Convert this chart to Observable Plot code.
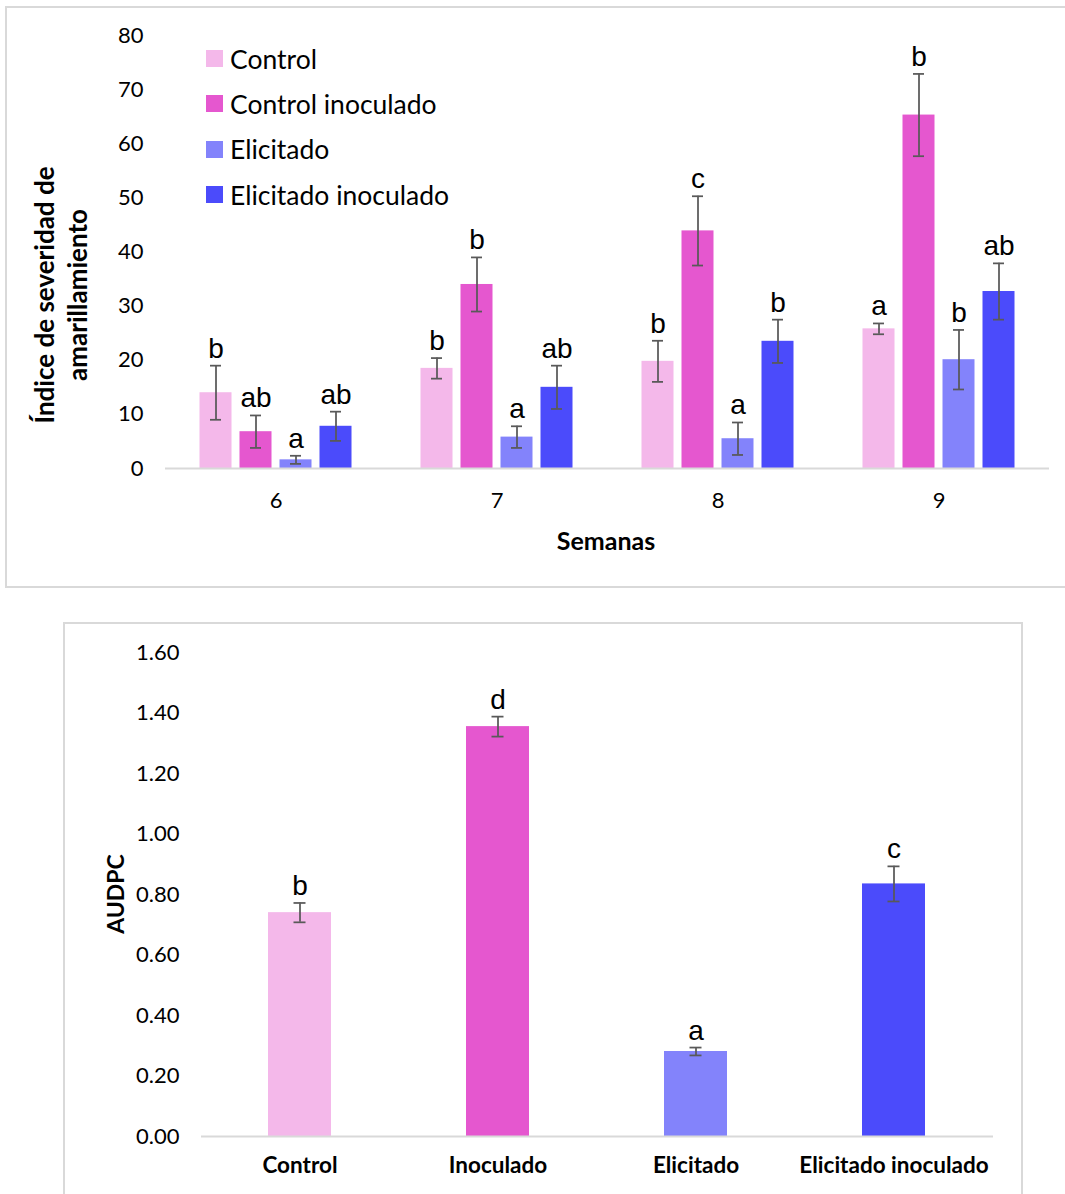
<!DOCTYPE html>
<html>
<head>
<meta charset="utf-8">
<script src="https://cdn.jsdelivr.net/npm/d3@7"></script>
<script src="https://cdn.jsdelivr.net/npm/@observablehq/plot@0.6"></script>
<style>
  html, body { margin: 0; padding: 0; background: #fff; }
  #wrap { position: relative; width: 1065px; height: 1194px; overflow: hidden; font-family: Lato, "Open Sans", sans-serif; }
  .box { position: absolute; border: 2px solid #d9d9d9; box-sizing: border-box; }
  .plot { position: absolute; left: 0; }
  .legend { position: absolute; left: 206px; top: 36px; font-family: Lato, sans-serif; font-size: 26.5px; color: #000; }
  .legend .row { height: 45.3px; display: flex; align-items: center; }
  .legend .sw { width: 17px; height: 17px; margin-right: 7px; }
  .ytitle { position: absolute; font-weight: bold; color: #000; text-align: center; white-space: nowrap; transform: translate(-50%, -50%) rotate(-90deg); }
  .xtitle { position: absolute; font-weight: bold; color: #000; transform: translate(-50%, -50%); white-space: nowrap; }
</style>
</head>
<body>
<div id="wrap">
  <div class="box" style="left:5px; top:6px; width:1080px; height:582px;"></div>
  <div class="box" style="left:63px; top:622px; width:960px; height:600px;"></div>
  <div id="topChart" class="plot" style="top:0px;"></div>
  <div id="bottomChart" class="plot" style="top:600px;"></div>
  <div id="legend" class="legend"></div>
  <div class="ytitle" style="left:61px; top:295px; font-size:26px; line-height:33px;">Índice de severidad de<br>amarillamiento</div>
  <div class="xtitle" style="left:606px; top:540px; font-size:25px;">Semanas</div>
  <div class="ytitle" style="left:115px; top:894px; font-size:23px;">AUDPC</div>
</div>
<script>
// ---- Top chart data ----
const weeks = [6, 7, 8, 9];
const treatments = ["Control", "Control inoculado", "Elicitado", "Elicitado inoculado"];
const colors = ["#F4B8EA", "#E557CF", "#8383FB", "#4B4BFB"];

const controlMean = [14.0, 18.5, 19.8, 25.8];
const controlErr = [5.0, 1.9, 3.8, 1.0];
const controlLetters = ["b", "b", "b", "a"];

const controlInocMean = [6.8, 34.0, 43.9, 65.3];
const controlInocErr = [3.0, 5.0, 6.4, 7.6];
const controlInocLetters = ["ab", "b", "c", "b"];

const elicMean = [1.6, 5.8, 5.5, 20.1];
const elicErr = [0.75, 2.0, 3.0, 5.5];
const elicLetters = ["a", "a", "a", "b"];

const elicInocMean = [7.8, 15.0, 23.5, 32.7];
const elicInocErr = [2.7, 4.0, 4.0, 5.2];
const elicInocLetters = ["ab", "ab", "b", "ab"];

const yTicksTop = [0, 10, 20, 30, 40, 50, 60, 70, 80];

// ---- Bottom chart data ----
const audpcCats = ["Control", "Inoculado", "Elicitado", "Elicitado inoculado"];
const audpcMean = [0.74, 1.355, 0.281, 0.835];
const audpcErr = [0.032, 0.033, 0.013, 0.058];
const audpcLetters = ["b", "d", "a", "c"];
const yTicksBottom = [0, 0.2, 0.4, 0.6, 0.8, 1.0, 1.2, 1.4, 1.6];

// Build rows
const series = [
  [controlMean, controlErr, controlLetters],
  [controlInocMean, controlInocErr, controlInocLetters],
  [elicMean, elicErr, elicLetters],
  [elicInocMean, elicInocErr, elicInocLetters]
];
const rows = [];
weeks.forEach((w, i) => {
  treatments.forEach((t, j) => {
    const [m, e, l] = series[j];
    rows.push({week: w, t, v: m[i], lo: m[i] - e[i], hi: m[i] + e[i], letter: l[i]});
  });
});

const errColor = "#595959";
const letterFont = "'Liberation Sans', Arial, sans-serif";

const topPlot = Plot.plot({
  width: 1065, height: 590,
  marginLeft: 164.5, marginRight: 16.5, marginTop: 35, marginBottom: 122,
  style: {fontFamily: "Lato, sans-serif", fontSize: "22px", color: "#000", background: "transparent"},
  fx: {domain: weeks, padding: 0, label: null, axis: "bottom", tickSize: 0, tickPadding: 24},
  x: {domain: treatments, paddingInner: 0.2, paddingOuter: 0.8625, axis: null},
  y: {domain: [0, 80], ticks: yTicksTop, label: null, tickSize: 0, tickPadding: 22},
  color: {domain: treatments, range: colors},
  marks: [
    Plot.barY(rows, {fx: "week", x: "t", y: "v", fill: "t"}),
    Plot.ruleY([0], {stroke: "#d9d9d9", strokeWidth: 2}),
    Plot.ruleX(rows, {fx: "week", x: "t", y1: "lo", y2: "hi", stroke: errColor, strokeWidth: 1.75}),
    Plot.tickY(rows, {fx: "week", x: "t", y: "hi", stroke: errColor, strokeWidth: 1.75, insetLeft: 10.5, insetRight: 10.5}),
    Plot.tickY(rows, {fx: "week", x: "t", y: "lo", stroke: errColor, strokeWidth: 1.75, insetLeft: 10.5, insetRight: 10.5}),
    Plot.text(rows, {fx: "week", x: "t", y: "hi", text: "letter", lineAnchor: "bottom", dy: -8, fontSize: 28, fontFamily: letterFont, fill: "#000"})
  ]
});
document.getElementById("topChart").appendChild(topPlot);

// Legend
const lg = document.getElementById("legend");
treatments.forEach((t, j) => {
  const r = document.createElement("div");
  r.className = "row";
  r.innerHTML = `<span class="sw" style="background:${colors[j]}"></span><span>${t}</span>`;
  lg.appendChild(r);
});

// Bottom chart
const bRows = audpcCats.map((c, i) => ({c, v: audpcMean[i], lo: audpcMean[i] - audpcErr[i], hi: audpcMean[i] + audpcErr[i], letter: audpcLetters[i], col: colors[i]}));

const bottomPlot = Plot.plot({
  width: 1065, height: 594,
  marginLeft: 201, marginRight: 72, marginTop: 52, marginBottom: 58,
  style: {fontFamily: "Lato, sans-serif", fontSize: "22px", color: "#000", background: "transparent"},
  x: {domain: audpcCats, paddingInner: 0.68, paddingOuter: 0.34, label: null, tickSize: 0, tickPadding: 21},
  y: {domain: [0, 1.6], ticks: yTicksBottom, tickFormat: d3.format(".2f"), label: null, tickSize: 0, tickPadding: 22},
  marks: [
    Plot.barY(bRows, {x: "c", y: "v", fill: "col"}),
    Plot.ruleY([0], {stroke: "#d9d9d9", strokeWidth: 2}),
    Plot.ruleX(bRows, {x: "c", y1: "lo", y2: "hi", stroke: errColor, strokeWidth: 1.75}),
    Plot.tickY(bRows, {x: "c", y: "hi", stroke: errColor, strokeWidth: 1.75, insetLeft: 25.5, insetRight: 25.5}),
    Plot.tickY(bRows, {x: "c", y: "lo", stroke: errColor, strokeWidth: 1.75, insetLeft: 25.5, insetRight: 25.5}),
    Plot.text(bRows, {x: "c", y: "hi", text: "letter", lineAnchor: "bottom", dy: -8, fontSize: 28, fontFamily: letterFont, fill: "#000"})
  ]
});
document.getElementById("bottomChart").appendChild(bottomPlot);
bottomPlot.querySelectorAll('g[aria-label^="x-axis"] text').forEach(t => { t.style.fontWeight = "bold"; t.style.fontSize = "22.5px"; });
</script>
</body>
</html>
